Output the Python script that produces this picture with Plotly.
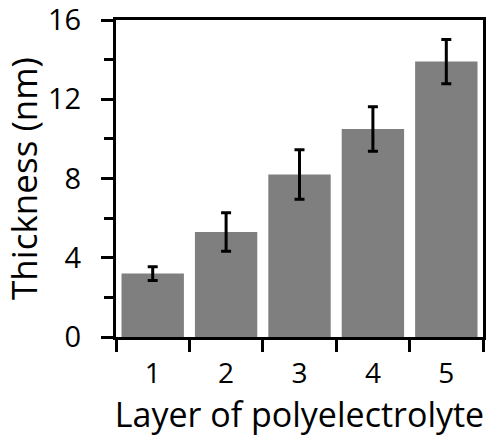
import plotly.graph_objects as go

categories = ["1", "2", "3", "4", "5"]
thickness = [3.2, 5.3, 8.2, 10.5, 13.9]
errors = [0.35, 0.97, 1.25, 1.12, 1.12]
y_ticks = [0, 4, 8, 12, 16]

FONT = "Open Sans"

fig = go.Figure(go.Bar(
    x=categories, y=thickness,
    marker=dict(color="#7f7f7f", line=dict(width=0)),
    error_y=dict(type="data", array=errors, visible=True, color="black",
                 thickness=3, width=5),
))

fig.update_layout(
    width=488, height=437,
    margin=dict(l=116, r=5, t=20, b=100),
    plot_bgcolor="white", paper_bgcolor="white",
    bargap=0.15,
    showlegend=False,
    font=dict(family=FONT, size=29, color="black"),
)
fig.update_xaxes(
    type="category", tickson="boundaries",
    showline=True, linecolor="black", linewidth=3, mirror=True,
    ticks="outside", ticklen=12, tickwidth=3, tickcolor="black",
    ticklabelstandoff=9, tickfont=dict(size=28),
    title=dict(text="Layer of polyelectrolyte", standoff=7, font=dict(size=34)),
    showgrid=False, automargin=False,
)
fig.update_yaxes(
    range=[0, 16], tickvals=y_ticks,
    showline=True, linecolor="black", linewidth=3, mirror=True,
    ticks="outside", ticklen=12, tickwidth=3, tickcolor="black",
    minor=dict(dtick=2, ticks="outside", ticklen=9, tickwidth=3, tickcolor="black", showgrid=False),
    ticklabelstandoff=14, ticklabeloverflow="allow",
    title=dict(text="Thickness (nm)", standoff=6, font=dict(size=35)),
    showgrid=False, zeroline=False, automargin=False,
)

fig.write_html("out.html")
